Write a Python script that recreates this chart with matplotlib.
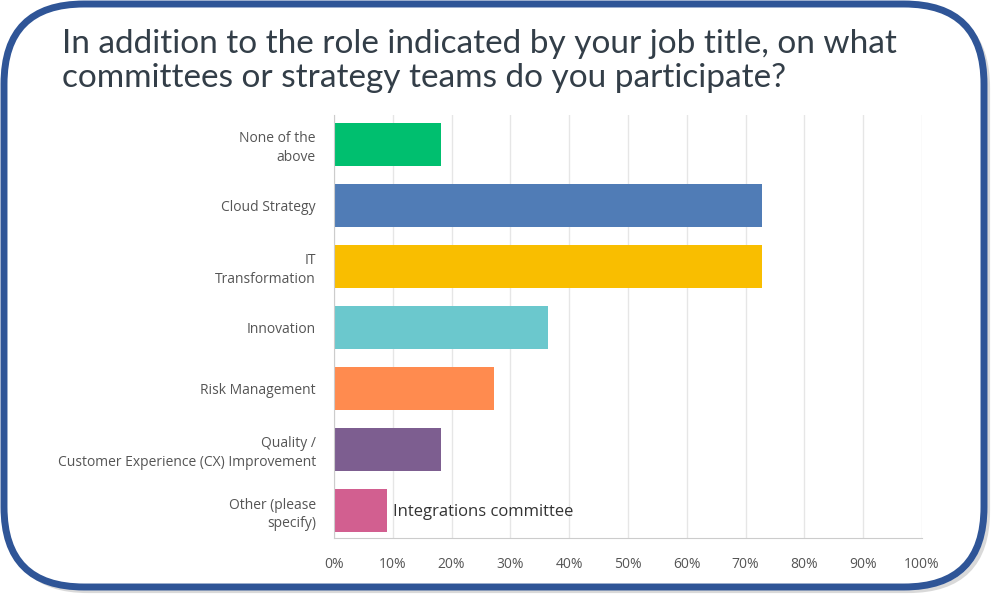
import matplotlib
matplotlib.use("Agg")
import matplotlib.pyplot as plt
from matplotlib.patches import FancyBboxPatch
from matplotlib.ticker import FuncFormatter

categories = ["None of the\nabove", "Cloud Strategy", "IT\nTransformation", "Innovation",
              "Risk Management", "Quality /\nCustomer Experience (CX) Improvement",
              "Other (please\nspecify)"]
values = [18.18, 72.73, 72.73, 36.36, 27.27, 18.18, 9.09]
colors = ["#00BF6F", "#507CB6", "#F9BE00", "#6BC8CD", "#FF8B4F", "#7D5E90", "#D25F90"]
ticks = list(range(0, 101, 10))
title = "In addition to the role indicated by your job title, on what\ncommittees or strategy teams do you participate?"
annotation = "Integrations committee"

W, H = 992, 595
fig = plt.figure(figsize=(W / 100, H / 100), dpi=100)
fig.patch.set_facecolor("white")

# frame
bg = fig.add_axes([0, 0, 1, 1], zorder=0)
bg.set_xlim(0, W)
bg.set_ylim(H, 0)
bg.axis("off")
shadow = FancyBboxPatch((8, 8), W - 12, H - 12, boxstyle="round,pad=0,rounding_size=80",
                        fc="none", ec="#d9d9d9", lw=3)
bg.add_patch(shadow)
frame = FancyBboxPatch((4, 4), W - 12, H - 12, boxstyle="round,pad=0,rounding_size=80",
                       fc="white", ec="#2F5597", lw=5)
bg.add_patch(frame)
bg.text(62, 61, title, fontsize=24, color="#333e48", family="Lato",
        va="center", ha="left", linespacing=1.2)

ax = fig.add_axes([334 / W, 1 - 538 / H, (922 - 334) / W, (538 - 115) / H], zorder=1)
ax.patch.set_alpha(0)
y = list(range(len(categories)))
ax.barh(y, values, height=0.71, color=colors, zorder=2)
ax.set_xlim(0, 100)
ax.set_ylim(6.45, -0.48)
ax.set_xticks(ticks)
ax.xaxis.set_major_formatter(FuncFormatter(lambda v, p: f"{int(v)}%"))
ax.set_yticks(y)
ax.set_yticklabels(categories, fontsize=10, color="#555555", family="Open Sans",
                   ha="right", linespacing=1.3)
ax.tick_params(axis="y", length=0, pad=13)
ax.tick_params(axis="x", length=0, pad=14, labelsize=10, labelcolor="#555555")
for lbl in ax.get_xticklabels():
    lbl.set_family("Open Sans")
ax.grid(axis="x", color="#e6e6e6", lw=1, zorder=0)
for s in ["top", "right"]:
    ax.spines[s].set_visible(False)
ax.spines["left"].set_color("#cccccc")
ax.spines["bottom"].set_color("#cccccc")

ax.text(values[6] + 1, 6.03, annotation, fontsize=12, color="#333333", family="Open Sans",
        va="center", ha="left")

fig.savefig("out.png", dpi=100, facecolor="white")
